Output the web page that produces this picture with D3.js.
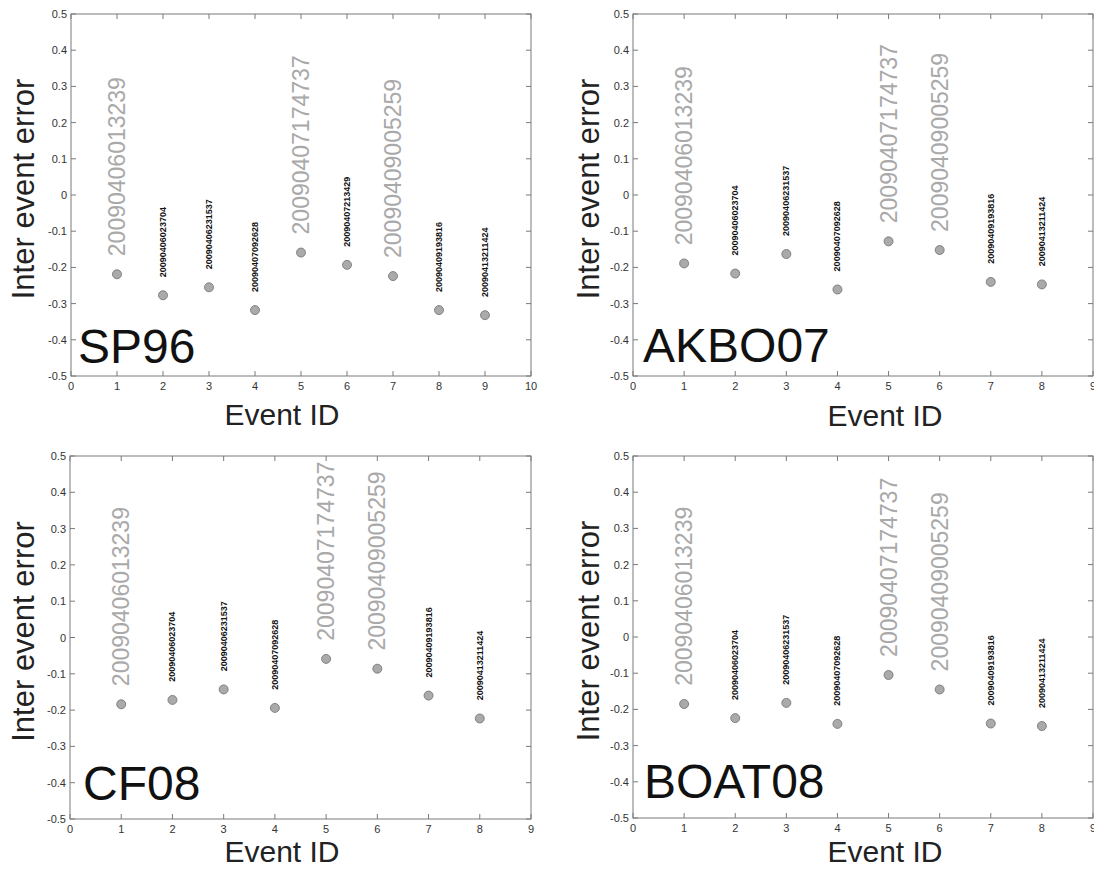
<!DOCTYPE html>
<html>
<head>
<meta charset="utf-8">
<script src="https://cdn.jsdelivr.net/npm/d3@7"></script>
<style>
  body { margin: 0; background: #fff; }
  text { font-family: "Liberation Sans", Arial, Helvetica, sans-serif; }
</style>
</head>
<body>
<div id="chart"></div>
<script>
const width = 1094;
const height = 870;

// event names (one per event id)
const sp96Events = ["20090406013239", "20090406023704", "20090406231537", "20090407092628",
    "20090407174737", "20090407213429", "20090409005259", "20090409193816", "20090413211424"];
const stationEvents = ["20090406013239", "20090406023704", "20090406231537", "20090407092628",
    "20090407174737", "20090409005259", "20090409193816", "20090413211424"];
// these ones are written big and grey
const bigEvents = ["20090406013239", "20090407174737", "20090409005259"];

// inter event error per event id
const sp96Err = [-0.219, -0.277, -0.255, -0.318, -0.159, -0.193, -0.224, -0.318, -0.332];
const akbo07Err = [-0.189, -0.217, -0.163, -0.261, -0.128, -0.152, -0.240, -0.247];
const cf08Err = [-0.184, -0.172, -0.143, -0.194, -0.059, -0.086, -0.160, -0.223];
const boat08Err = [-0.185, -0.224, -0.182, -0.240, -0.105, -0.145, -0.239, -0.246];

const yTicks = [-0.5, -0.4, -0.3, -0.2, -0.1, 0, 0.1, 0.2, 0.3, 0.4, 0.5];

const svg = d3.select("#chart").append("svg").attr("width", width).attr("height", height);
svg.append("rect").attr("width", width).attr("height", height).attr("fill", "#fff");

const panels = [
    {name: "SP96", err: sp96Err, events: sp96Events, xMax: 10,
        left: 71, right: 531, top: 14, bottom: 376, nameX: 78, nameY: 363, xlabX: 282, xlabY: 425, ylabX: 23},
    {name: "AKBO07", err: akbo07Err, events: stationEvents, xMax: 9,
        left: 633, right: 1093, top: 14, bottom: 376, nameX: 643, nameY: 362, xlabX: 885, xlabY: 426, ylabX: 588},
    {name: "CF08", err: cf08Err, events: stationEvents, xMax: 9,
        left: 70, right: 531, top: 456, bottom: 819, nameX: 83, nameY: 800, xlabX: 282, xlabY: 862, ylabX: 23},
    {name: "BOAT08", err: boat08Err, events: stationEvents, xMax: 9,
        left: 633, right: 1093, top: 456, bottom: 818, nameX: 644, nameY: 798, xlabX: 885, xlabY: 862, ylabX: 588}
];

const axisColor = "#7a7a7a";
const fmt = d => d === 0 ? "0" : String(+d.toFixed(1));

function drawPanel(p) {
    const g = svg.append("g");
    const x = d3.scaleLinear().domain([0, p.xMax]).range([p.left, p.right]);
    const y = d3.scaleLinear().domain([-0.5, 0.5]).range([p.bottom, p.top]);
    const xTicks = d3.range(0, p.xMax + 1);

    // box
    g.append("rect")
        .attr("x", p.left).attr("y", p.top)
        .attr("width", p.right - p.left).attr("height", p.bottom - p.top)
        .attr("fill", "none").attr("stroke", axisColor).attr("stroke-width", 1);

    // ticks pointing inwards on all four sides
    const tickLen = 5;
    g.selectAll(".ytl").data(yTicks).enter().append("line")
        .attr("x1", p.left).attr("x2", p.left + tickLen)
        .attr("y1", d => y(d)).attr("y2", d => y(d))
        .attr("stroke", axisColor);
    g.selectAll(".ytr").data(yTicks).enter().append("line")
        .attr("x1", p.right).attr("x2", p.right - tickLen)
        .attr("y1", d => y(d)).attr("y2", d => y(d))
        .attr("stroke", axisColor);
    g.selectAll(".xtb").data(xTicks).enter().append("line")
        .attr("x1", d => x(d)).attr("x2", d => x(d))
        .attr("y1", p.bottom).attr("y2", p.bottom - tickLen)
        .attr("stroke", axisColor);
    g.selectAll(".xtt").data(xTicks).enter().append("line")
        .attr("x1", d => x(d)).attr("x2", d => x(d))
        .attr("y1", p.top).attr("y2", p.top + tickLen)
        .attr("stroke", axisColor);

    // tick labels
    g.selectAll(".yl").data(yTicks).enter().append("text")
        .attr("x", p.left - 4).attr("y", d => y(d))
        .attr("text-anchor", "end").attr("dominant-baseline", "central")
        .attr("font-size", 11).attr("fill", "#333")
        .text(fmt);
    g.selectAll(".xl").data(xTicks).enter().append("text")
        .attr("x", d => x(d)).attr("y", p.bottom + 14)
        .attr("text-anchor", "middle")
        .attr("font-size", 11).attr("fill", "#333")
        .text(d => d);

    // axis titles
    g.append("text")
        .attr("transform", `translate(${p.ylabX},${(p.top + p.bottom) / 2 - 6}) rotate(-90)`)
        .attr("text-anchor", "middle").attr("dominant-baseline", "central")
        .attr("font-size", 31).attr("fill", "#222")
        .text("Inter event error");
    g.append("text")
        .attr("x", p.xlabX).attr("y", p.xlabY)
        .attr("text-anchor", "middle")
        .attr("font-size", 30).attr("fill", "#222")
        .text("Event ID");

    // station name
    g.append("text")
        .attr("x", p.nameX).attr("y", p.nameY)
        .attr("font-size", 48).attr("fill", "#111")
        .text(p.name);

    const pts = p.err.map((v, i) => ({id: i + 1, v: v, ev: p.events[i]}));

    // event labels
    g.selectAll(".ev").data(pts).enter().append("text")
        .attr("transform", d => `translate(${x(d.id)},${y(d.v + 0.05)}) rotate(-90)`)
        .attr("text-anchor", "start").attr("dominant-baseline", "central")
        .attr("font-size", d => bigEvents.includes(d.ev) ? 23 : 9)
        .attr("font-weight", d => bigEvents.includes(d.ev) ? "normal" : "bold")
        .attr("fill", d => bigEvents.includes(d.ev) ? "#a9a9a9" : "#111")
        .text(d => d.ev);

    // points
    g.selectAll(".pt").data(pts).enter().append("circle")
        .attr("cx", d => x(d.id)).attr("cy", d => y(d.v))
        .attr("r", 4.5)
        .attr("fill", "#aaaaaa").attr("stroke", "#6f6f6f").attr("stroke-width", 0.8);
}

panels.forEach(drawPanel);
</script>
</body>
</html>
